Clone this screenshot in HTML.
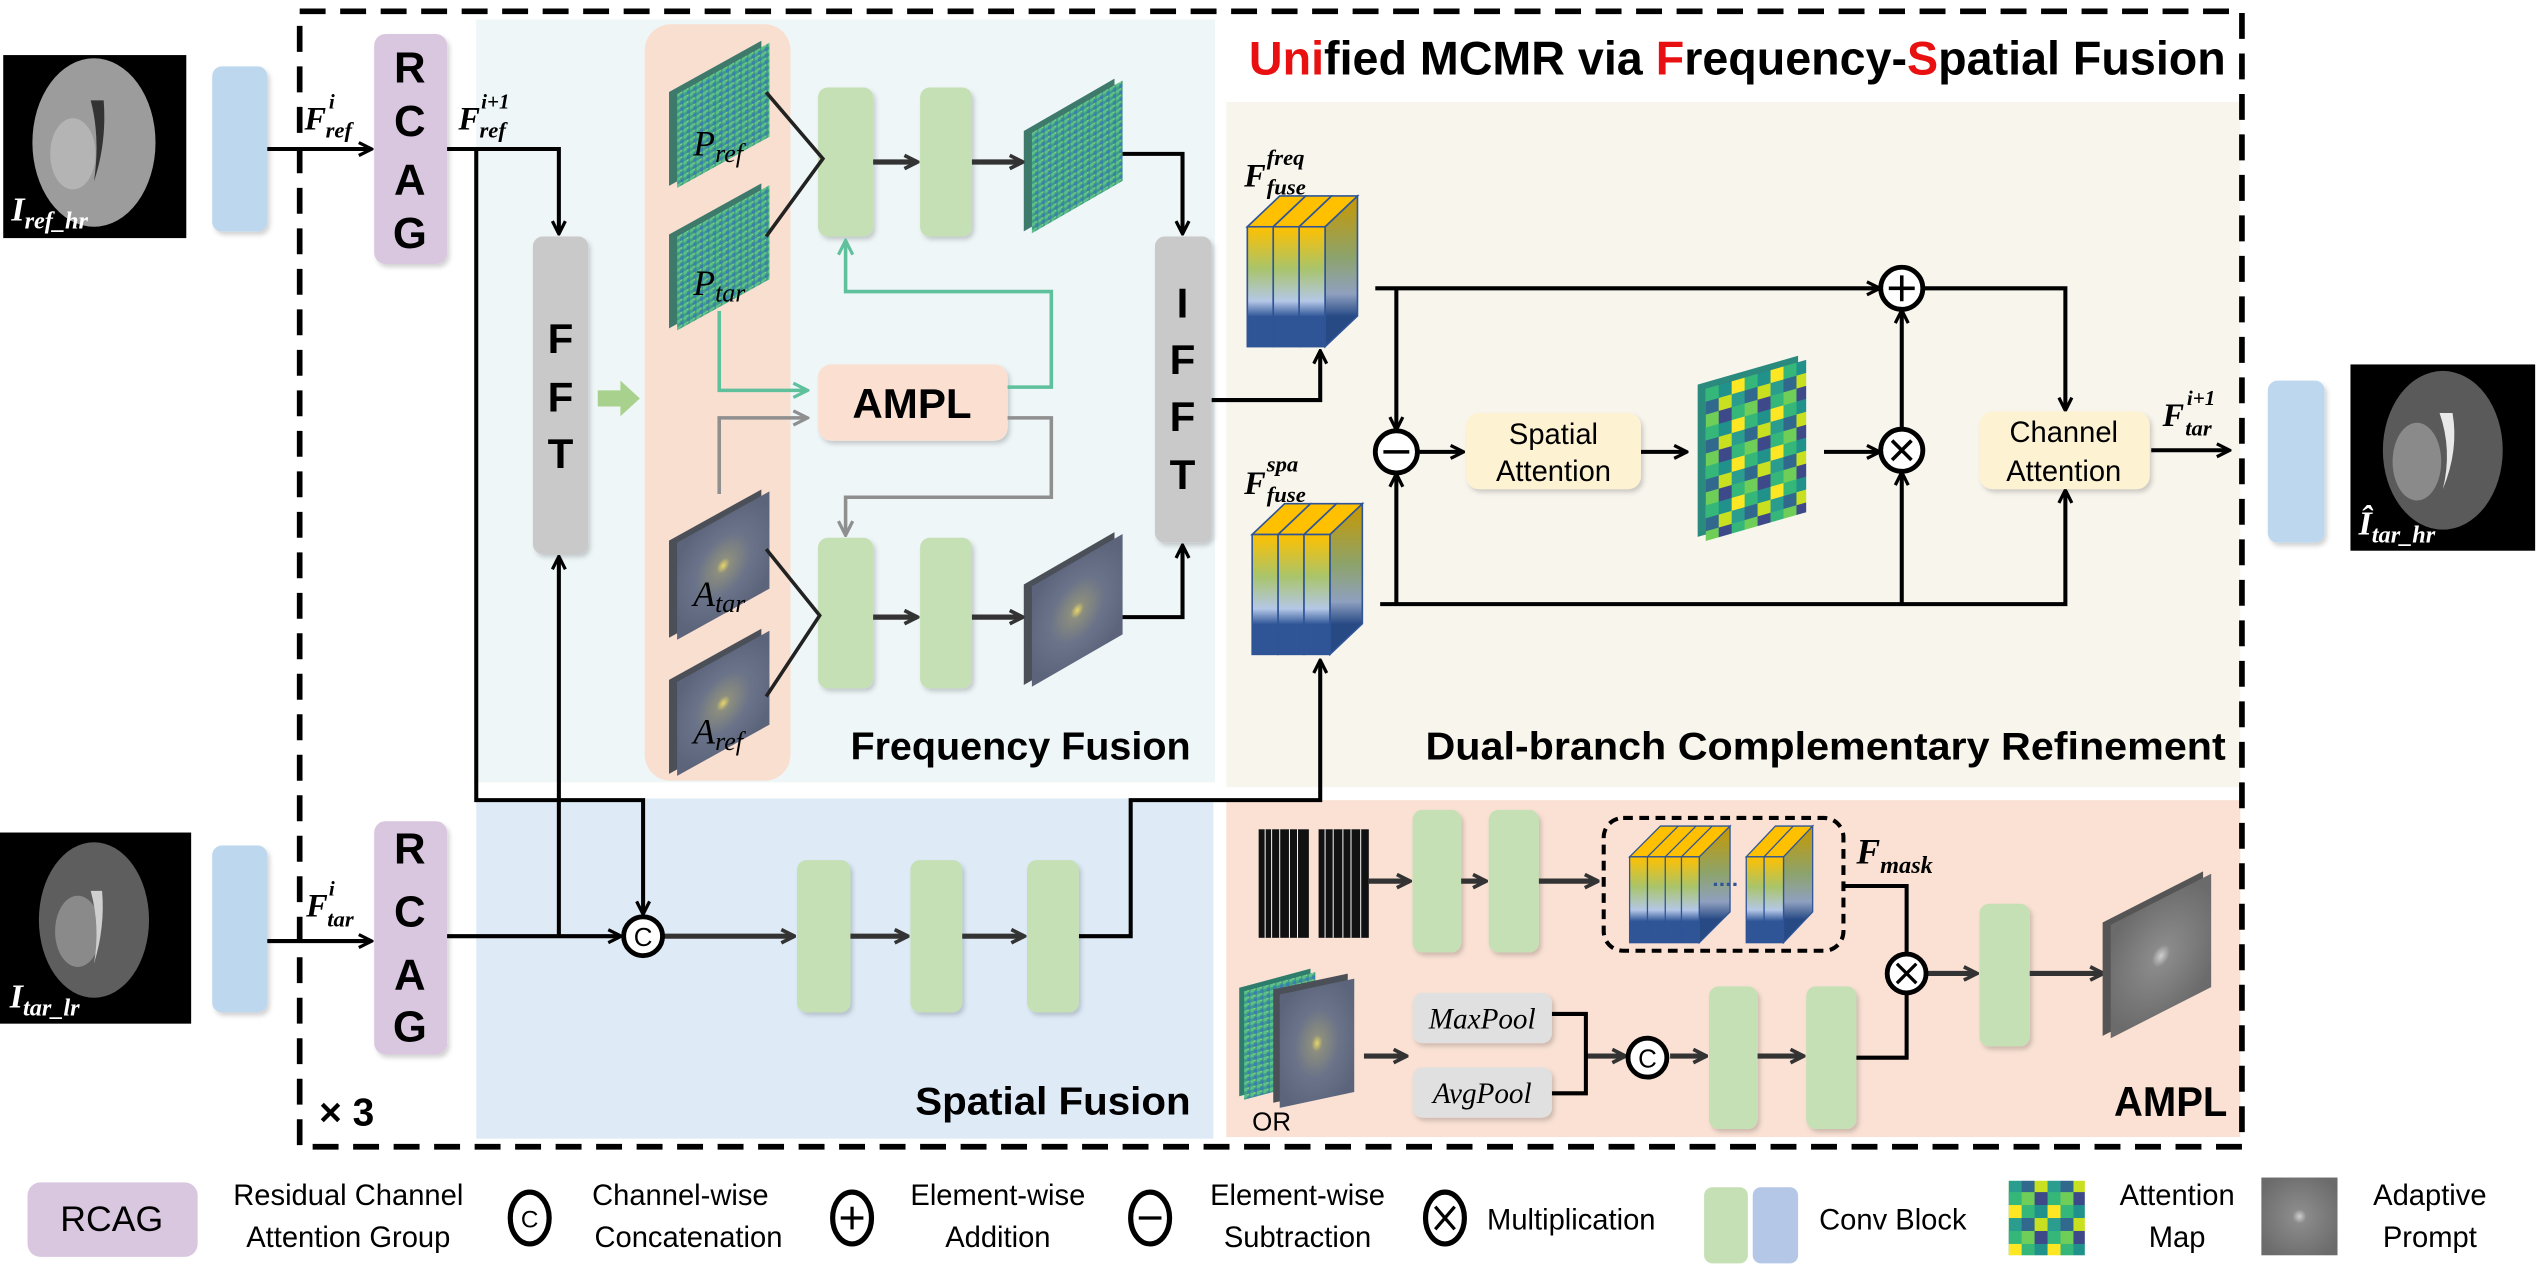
<!DOCTYPE html>
<html><head><meta charset="utf-8"><style>
html,body{margin:0;padding:0;background:#fff;}
svg{display:block;}
.t{font-family:"Liberation Sans Narrow","Liberation Sans",sans-serif;fill:#000;}
.m{font-family:"Liberation Serif",serif;font-style:italic;fill:#000;}
</style></head><body>
<svg width="2540" height="1265" viewBox="0 0 1568 781" preserveAspectRatio="none" xmlns="http://www.w3.org/2000/svg">
<defs>
<marker id="ab" viewBox="0 0 10 10" refX="8.5" refY="5" markerWidth="4" markerHeight="4" orient="auto" markerUnits="strokeWidth"><path d="M1,1 L9,5 L1,9" fill="none" stroke="#000" stroke-width="2"/></marker>
<marker id="ad" viewBox="0 0 10 10" refX="8.5" refY="5" markerWidth="3.2" markerHeight="3.2" orient="auto" markerUnits="strokeWidth"><path d="M1,1 L9,5 L1,9" fill="none" stroke="#333" stroke-width="2.2"/></marker>
<marker id="ag" viewBox="0 0 10 10" refX="8.5" refY="5" markerWidth="5" markerHeight="5" orient="auto" markerUnits="strokeWidth"><path d="M1,1 L9,5 L1,9" fill="none" stroke="#5fc09c" stroke-width="1.8"/></marker>
<marker id="ay" viewBox="0 0 10 10" refX="8.5" refY="5" markerWidth="5" markerHeight="5" orient="auto" markerUnits="strokeWidth"><path d="M1,1 L9,5 L1,9" fill="none" stroke="#8f8f8f" stroke-width="1.8"/></marker>
<filter id="sh" x="-30%" y="-30%" width="160%" height="160%"><feDropShadow dx="1.5" dy="2" stdDeviation="1.5" flood-color="#000" flood-opacity="0.18"/></filter>
<pattern id="pn" width="4" height="4" patternUnits="userSpaceOnUse">
<rect width="4" height="4" fill="#3f9f86"/><rect width="2" height="2" fill="#5cc08a"/><rect x="2" y="2" width="2" height="2" fill="#3a7fae"/><rect x="2" width="1" height="1" fill="#8bd27a"/></pattern>
<radialGradient id="ag1" cx="0.5" cy="0.5" r="0.6"><stop offset="0" stop-color="#e7d56a"/><stop offset="0.12" stop-color="#8c8e7e"/><stop offset="0.5" stop-color="#6a7389"/><stop offset="1" stop-color="#5b647a"/></radialGradient>
<radialGradient id="gp" cx="0.5" cy="0.5" r="0.6"><stop offset="0" stop-color="#cfcfcf"/><stop offset="0.15" stop-color="#8a8a8a"/><stop offset="1" stop-color="#6b6b6b"/></radialGradient>
<pattern id="am" width="24" height="24" patternUnits="userSpaceOnUse">
<rect width="8" height="8" fill="#35b779"/><rect x="8" width="8" height="8" fill="#21918c"/><rect x="16" width="8" height="8" fill="#fde725"/>
<rect y="8" width="8" height="8" fill="#31688e"/><rect x="8" y="8" width="8" height="8" fill="#c8e020"/><rect x="16" y="8" width="8" height="8" fill="#2a9d8f"/>
<rect y="16" width="8" height="8" fill="#6ece58"/><rect x="8" y="16" width="8" height="8" fill="#3e4989"/><rect x="16" y="16" width="8" height="8" fill="#35b779"/></pattern>
<linearGradient id="cb" x1="0" y1="0" x2="0" y2="1"><stop offset="0" stop-color="#ffc000"/><stop offset="0.35" stop-color="#a9c46a"/><stop offset="0.62" stop-color="#b4c7e7"/><stop offset="0.75" stop-color="#2f5597"/><stop offset="1" stop-color="#2f5597"/></linearGradient>
<linearGradient id="cs" x1="0" y1="0" x2="0" y2="1"><stop offset="0" stop-color="#c99800"/><stop offset="0.4" stop-color="#8da36a"/><stop offset="0.65" stop-color="#8fa0c0"/><stop offset="0.8" stop-color="#274a85"/><stop offset="1" stop-color="#274a85"/></linearGradient>
</defs>

<!-- background regions -->
<rect x="294" y="12" width="456" height="471" fill="#eef6f8"/>
<rect x="757" y="63" width="626" height="423" fill="#f8f5ed"/>
<rect x="294" y="493" width="455" height="210" fill="#deebf7"/>
<rect x="757" y="494" width="626" height="208" fill="#fae1d4"/>
<rect x="398" y="15" width="90" height="467" rx="16" fill="#f9dfd0"/>

<!-- outer dashed box -->
<rect x="185" y="7" width="1199" height="701" fill="none" stroke="#000" stroke-width="3.5" stroke-dasharray="16 9"/>

<!-- brains -->
<rect x="2" y="34" width="113" height="113" fill="#000"/>
<ellipse cx="58" cy="88" rx="38" ry="52" fill="#9c9c9c"/>
<ellipse cx="45" cy="95" rx="14" ry="22" fill="#b4b4b4"/>
<path d="M56,62 Q62,85 58,112 Q66,88 64,62Z" fill="#333"/>
<text class="m" x="7" y="136" font-size="21" font-weight="bold" fill="#fff" style="fill:#fff">I<tspan font-size="15" dy="5">ref_hr</tspan></text>

<rect x="0" y="514" width="118" height="118" fill="#000"/>
<ellipse cx="58" cy="568" rx="34" ry="48" fill="#5e5e5e"/>
<ellipse cx="48" cy="575" rx="14" ry="22" fill="#8a8a8a"/>
<path d="M56,550 Q62,572 58,595 Q65,572 63,550Z" fill="#cfcfcf"/>
<text class="m" x="6" y="622" font-size="21" font-weight="bold" style="fill:#fff">I<tspan font-size="15" dy="5">tar_lr</tspan></text>

<rect x="1451" y="225" width="114" height="115" fill="#000"/>
<ellipse cx="1508" cy="278" rx="37" ry="49" fill="#5a5a5a"/>
<ellipse cx="1492" cy="285" rx="15" ry="24" fill="#8a8a8a"/>
<path d="M1506,255 Q1514,278 1508,302 Q1518,278 1514,255Z" fill="#e8e8e8"/>
<text class="m" x="1456" y="330" font-size="21" font-weight="bold" style="fill:#fff">Î<tspan font-size="15" dy="5">tar_hr</tspan></text>

<!-- blue conv blocks -->
<rect x="131" y="41" width="34" height="102" rx="6" fill="#bdd7ee" filter="url(#sh)"/>
<rect x="131" y="522" width="34" height="103" rx="6" fill="#bdd7ee" filter="url(#sh)"/>
<rect x="1400" y="235" width="35" height="100" rx="6" fill="#bdd7ee" filter="url(#sh)"/>

<!-- RCAG -->
<rect x="231" y="21" width="45" height="142" rx="7" fill="#d9c6df" filter="url(#sh)"/>
<g class="t" font-size="27" text-anchor="middle" font-weight="bold"><text x="253" y="51">R</text><text x="253" y="84">C</text><text x="253" y="120">A</text><text x="253" y="153">G</text></g>
<rect x="231" y="507" width="45" height="144" rx="7" fill="#d9c6df" filter="url(#sh)"/>
<g class="t" font-size="27" text-anchor="middle" font-weight="bold"><text x="253" y="533">R</text><text x="253" y="572">C</text><text x="253" y="611">A</text><text x="253" y="643">G</text></g>

<!-- labels F -->
<text class="m" x="188" y="80" font-size="20" font-weight="bold">F</text><text class="m" x="203" y="67" font-size="13" font-weight="bold">i</text><text class="m" x="201" y="85" font-size="14" font-weight="bold">ref</text>
<text class="m" x="283" y="80" font-size="20" font-weight="bold">F</text><text class="m" x="297" y="67" font-size="13" font-weight="bold">i+1</text><text class="m" x="296" y="85" font-size="14" font-weight="bold">ref</text>
<text class="m" x="189" y="566" font-size="20" font-weight="bold">F</text><text class="m" x="203" y="553" font-size="13" font-weight="bold">i</text><text class="m" x="202" y="572" font-size="14" font-weight="bold">tar</text>

<!-- FFT & IFFT -->
<rect x="329" y="146" width="34" height="196" rx="6" fill="#c9c9c9" filter="url(#sh)"/>
<g class="t" font-size="26" text-anchor="middle" font-weight="bold"><text x="346" y="218">F</text><text x="346" y="254">F</text><text x="346" y="289">T</text></g>
<rect x="713" y="146" width="35" height="189" rx="6" fill="#c9c9c9" filter="url(#sh)"/>
<g class="t" font-size="26" text-anchor="middle" font-weight="bold"><text x="730" y="196">I</text><text x="730" y="231">F</text><text x="730" y="266">F</text><text x="730" y="302">T</text></g>
<path d="M369,241 h14 v-6 l12,11 l-12,11 v-6 h-14z" fill="#a9d18e"/>

<!-- tiles -->
<g transform="translate(418,58) skewY(-29)"><rect x="-5" y="-4" width="57" height="58" fill="#3d7a6c"/><rect width="57" height="58" fill="url(#pn)"/></g>
<g transform="translate(418,146) skewY(-29)"><rect x="-5" y="-4" width="57" height="58" fill="#3d7a6c"/><rect width="57" height="58" fill="url(#pn)"/></g>
<g transform="translate(418,335) skewY(-29)"><rect x="-5" y="-4" width="57" height="60" fill="#4a4f58"/><rect width="57" height="60" fill="url(#ag1)"/></g>
<g transform="translate(418,421) skewY(-29)"><rect x="-5" y="-4" width="57" height="58" fill="#4a4f58"/><rect width="57" height="58" fill="url(#ag1)"/></g>
<g transform="translate(637,82) skewY(-30)"><rect x="-5" y="-4" width="56" height="62" fill="#3d7a6c"/><rect width="56" height="62" fill="url(#pn)"/></g>
<g transform="translate(637,362) skewY(-30)"><rect x="-5" y="-4" width="56" height="62" fill="#4a4f58"/><rect width="56" height="62" fill="url(#ag1)"/></g>
<g class="m" font-size="22"><text x="428" y="96">P<tspan font-size="16" dy="4">ref</tspan></text><text x="428" y="182">P<tspan font-size="16" dy="4">tar</tspan></text>
<text x="428" y="374">A<tspan font-size="16" dy="4">tar</tspan></text><text x="428" y="459">A<tspan font-size="16" dy="4">ref</tspan></text></g>

<!-- freq convs -->
<g fill="#c5e0b4" filter="url(#sh)">
<rect x="505" y="54" width="34" height="92" rx="6"/><rect x="568" y="54" width="32" height="92" rx="6"/>
<rect x="505" y="332" width="34" height="93" rx="6"/><rect x="568" y="332" width="32" height="93" rx="6"/>
</g>
<rect x="505" y="225" width="117" height="47" rx="8" fill="#fbe0d1" filter="url(#sh)"/>
<text class="t" x="563" y="258" font-size="26" text-anchor="middle" font-weight="bold">AMPL</text>

<g fill="none" stroke="#222" stroke-width="2.2">
<path d="M473,57 L508,98 L473,146"/><path d="M473,339 L506,380 L473,430"/>
</g>
<g fill="none" stroke="#333" stroke-width="3.2" marker-end="url(#ad)">
<path d="M539,100 H566"/><path d="M600,100 H631"/><path d="M539,381 H566"/><path d="M600,381 H631"/>
</g>
<g fill="none" stroke="#000" stroke-width="2.5" marker-end="url(#ab)">
<path d="M693,95 H730 V144"/><path d="M693,381 H730 V337"/>
<path d="M165,92 H229"/><path d="M165,581 H229"/>
<path d="M276,92 H345 V144"/>
<path d="M345,578 V344"/>
<path d="M294,92 V494 H397 V564"/>
<path d="M276,578 H383"/>
</g>
<g fill="none" stroke="#5fc09c" stroke-width="2.2" marker-end="url(#ag)"><path d="M444,192 V241 H498"/><path d="M622,239 H649 V180 H522 V149"/></g>
<g fill="none" stroke="#8f8f8f" stroke-width="2.2" marker-end="url(#ay)"><path d="M444,305 V258 H498"/><path d="M622,258 H649 V307 H522 V330"/></g>
<text class="t" x="525" y="469" font-size="24" textLength="210" lengthAdjust="spacingAndGlyphs" font-weight="bold">Frequency Fusion</text>

<!-- title -->
<text class="t" x="771" y="46" font-size="29" font-weight="bold" textLength="603" lengthAdjust="spacingAndGlyphs"><tspan fill="#e81010" style="fill:#e81010">Uni</tspan>fied  MCMR via <tspan style="fill:#e81010">F</tspan>requency-<tspan style="fill:#e81010">S</tspan>patial Fusion</text>

<!-- cubes -->
<g id="cube1">
<polygon points="818,140 838,121 838,195 818,214" fill="url(#cs)" stroke="#2f5597" stroke-width="1"/>
<polygon points="770,140 790,121 806,121 786,140" fill="#ffc000" stroke="#2f5597" stroke-width="1"/>
<polygon points="786,140 806,121 822,121 802,140" fill="#ffc000" stroke="#2f5597" stroke-width="1"/>
<polygon points="802,140 822,121 838,121 818,140" fill="#ffc000" stroke="#2f5597" stroke-width="1"/>
<rect x="770" y="140" width="16" height="74" fill="url(#cb)" stroke="#2f5597" stroke-width="1"/>
<rect x="786" y="140" width="16" height="74" fill="url(#cb)" stroke="#2f5597" stroke-width="1"/>
<rect x="802" y="140" width="16" height="74" fill="url(#cb)" stroke="#2f5597" stroke-width="1"/>
</g>
<use href="#cube1" transform="translate(3,190)"/>
<text class="m" x="768" y="115" font-size="20" font-weight="bold">F</text><text class="m" x="782" y="102" font-size="14" font-weight="bold">freq</text><text class="m" x="782" y="120" font-size="14" font-weight="bold">fuse</text>
<text class="m" x="768" y="305" font-size="20" font-weight="bold">F</text><text class="m" x="782" y="291" font-size="14" font-weight="bold">spa</text><text class="m" x="782" y="310" font-size="14" font-weight="bold">fuse</text>

<!-- dual branch -->
<g fill="none" stroke="#000" stroke-width="2.5" marker-end="url(#ab)">
<path d="M748,247 H815 V217"/>
<path d="M666,578 H698 V494 H815 V408"/>
<path d="M849,178 H1160"/>
<path d="M862,178 V265"/>
<path d="M852,373 H1275 V303"/>
<path d="M862,373 V293"/>
<path d="M876,279 H903"/>
<path d="M1013,279 H1041"/>
<path d="M1126,279 H1160"/>
<path d="M1174,373 V292"/>
<path d="M1174,265 V192"/>
<path d="M1187,178 H1275 V253"/>
<path d="M1328,278 H1376"/>
</g>
<g fill="#fff" stroke="#000" stroke-width="3">
<circle cx="1174" cy="178" r="13"/><circle cx="862" cy="279" r="13"/><circle cx="1174" cy="278" r="13"/>
</g>
<g stroke="#000" stroke-width="2.2"><path d="M1174,170 V186 M1166,178 H1182"/><path d="M854,279 H870"/><path d="M1168,272 L1180,284 M1180,272 L1168,284"/></g>
<rect x="905" y="255" width="108" height="47" rx="8" fill="#fdf2d2" filter="url(#sh)"/>
<text class="t" x="959" y="274" font-size="18" text-anchor="middle">Spatial</text><text class="t" x="959" y="297" font-size="18" text-anchor="middle">Attention</text>
<rect x="1222" y="254" width="105" height="48" rx="8" fill="#fdf2d2" filter="url(#sh)"/>
<text class="t" x="1274" y="273" font-size="18" text-anchor="middle">Channel</text><text class="t" x="1274" y="297" font-size="18" text-anchor="middle">Attention</text>
<g transform="translate(1053,240) skewY(-16)"><rect x="-5" y="-4" width="62" height="94" fill="#2a8a7e"/><rect width="62" height="94" fill="url(#am)"/></g>
<text class="m" x="1335" y="263" font-size="20" font-weight="bold">F</text><text class="m" x="1350" y="250" font-size="13" font-weight="bold">i+1</text><text class="m" x="1349" y="269" font-size="14" font-weight="bold">tar</text>
<text class="t" x="880" y="469" font-size="24" font-weight="bold" textLength="494" lengthAdjust="spacingAndGlyphs">Dual-branch Complementary Refinement</text>

<!-- spatial fusion -->
<g fill="#c5e0b4" filter="url(#sh)"><rect x="492" y="531" width="33" height="94" rx="6"/><rect x="562" y="531" width="32" height="94" rx="6"/><rect x="634" y="531" width="32" height="94" rx="6"/></g>
<g fill="none" stroke="#333" stroke-width="3.2" marker-end="url(#ad)"><path d="M410,578 H490"/><path d="M525,578 H560"/><path d="M594,578 H632"/></g>
<circle cx="397" cy="578" r="12" fill="#fff" stroke="#000" stroke-width="3"/><text class="t" x="397" y="584" font-size="16" text-anchor="middle">C</text>
<text class="t" x="565" y="688" font-size="24" font-weight="bold" textLength="170" lengthAdjust="spacingAndGlyphs">Spatial Fusion</text>
<text class="t" x="197" y="695" font-size="24" font-weight="bold">× 3</text>

<!-- AMPL module -->
<g fill="#111"><rect x="777" y="512" width="31" height="67"/><rect x="814" y="512" width="31" height="67"/></g>
<g stroke="#fff" stroke-width="0.6"><path d="M781,512 V579 M785,512 V579 M790,512 V579 M796,512 V579 M801,512 V579 M818,512 V579 M823,512 V579 M829,512 V579 M834,512 V579 M840,512 V579"/></g>
<g fill="#c5e0b4" filter="url(#sh)">
<rect x="872" y="500" width="30" height="88" rx="6"/><rect x="919" y="500" width="31" height="88" rx="6"/>
<rect x="1222" y="558" width="31" height="88" rx="6"/>
<rect x="1055" y="609" width="30" height="88" rx="6"/><rect x="1115" y="609" width="31" height="88" rx="6"/>
</g>
<g fill="none" stroke="#333" stroke-width="3.2" marker-end="url(#ad)">
<path d="M845,544 H870"/><path d="M902,544 H917"/><path d="M950,544 H986"/>
<path d="M1189,601 H1220"/><path d="M1253,601 H1298"/>
<path d="M842,652 H868"/><path d="M979,652 H1003"/><path d="M1031,652 H1053"/><path d="M1085,652 H1113"/>
</g>
<g fill="none" stroke="#000" stroke-width="2.5">
<path d="M1138,547 H1177 V588"/><path d="M1146,653 H1177 V614"/>
<path d="M958,626 H979 V675 H958"/>
</g>
<circle cx="1177" cy="601" r="12" fill="#fff" stroke="#000" stroke-width="3"/><path d="M1171,595 L1183,607 M1183,595 L1171,607" stroke="#000" stroke-width="2"/>
<circle cx="1017" cy="653" r="12" fill="#fff" stroke="#000" stroke-width="3"/><text class="t" x="1017" y="659" font-size="16" text-anchor="middle">C</text>
<rect x="990" y="505" width="148" height="82" rx="12" fill="none" stroke="#000" stroke-width="2.5" stroke-dasharray="6 4"/>
<g id="mc">
<polygon points="1049,529 1068,510 1068,563 1049,582" fill="url(#cs)" stroke="#2f5597" stroke-width="0.8"/>
<polygon points="1006,529 1025,510 1068,510 1049,529" fill="#ffc000" stroke="#2f5597" stroke-width="0.8"/>
<path d="M1017,529 L1036,510 M1028,529 L1047,510 M1038,529 L1057,510" stroke="#2f5597" stroke-width="0.8"/>
<rect x="1006" y="529" width="43" height="53" fill="url(#cb)" stroke="#2f5597" stroke-width="0.8"/>
<path d="M1017,529 V582 M1028,529 V582 M1038,529 V582" stroke="#2f5597" stroke-width="0.8"/>
</g>
<polygon points="1101,529 1119,510 1119,563 1101,582" fill="url(#cs)" stroke="#2f5597" stroke-width="0.8"/>
<polygon points="1078,529 1096,510 1119,510 1101,529" fill="#ffc000" stroke="#2f5597" stroke-width="0.8"/>
<rect x="1078" y="529" width="23" height="53" fill="url(#cb)" stroke="#2f5597" stroke-width="0.8"/>
<path d="M1089,529 V582 M1089,529 L1107,510" stroke="#2f5597" stroke-width="0.8"/>
<path d="M1058,546 H1072" stroke="#2f5597" stroke-width="2" stroke-dasharray="2 2"/>
<text class="m" x="1146" y="533" font-size="22" font-weight="bold">F<tspan font-size="15" dy="6">mask</tspan></text>
<g transform="translate(1303,571) skewY(-27)"><rect x="-5" y="-4" width="62" height="70" fill="#555"/><rect width="62" height="70" fill="url(#gp)"/></g>
<g transform="translate(768,612) skewY(-15)"><rect x="-3" y="-3" width="44" height="67" fill="#2e7d6c"/><rect width="44" height="67" fill="url(#pn)"/></g>
<g transform="translate(790,614) skewY(-12)"><rect x="-4" y="-4" width="46" height="70" fill="#4a4f58"/><rect width="46" height="70" fill="url(#ag1)"/></g>
<text class="t" x="773" y="698" font-size="16">OR</text>
<rect x="872" y="613" width="86" height="31" rx="6" fill="#e0e0e0" filter="url(#sh)"/>
<rect x="872" y="659" width="86" height="31" rx="6" fill="#e0e0e0" filter="url(#sh)"/>
<text class="m" x="915" y="635" font-size="18" text-anchor="middle">MaxPool</text>
<text class="m" x="915" y="681" font-size="18" text-anchor="middle">AvgPool</text>
<text class="t" x="1305" y="689" font-size="26" font-weight="bold" textLength="70" lengthAdjust="spacingAndGlyphs">AMPL</text>

<!-- legend -->
<rect x="17" y="730" width="105" height="46" rx="8" fill="#d9c6df"/>
<text class="t" x="69" y="760" font-size="22" text-anchor="middle">RCAG</text>
<g class="t" font-size="18" text-anchor="middle">
<text x="215" y="744">Residual Channel</text><text x="215" y="770">Attention Group</text>
<text x="420" y="744">Channel-wise</text><text x="425" y="770">Concatenation</text>
<text x="616" y="744">Element-wise</text><text x="616" y="770">Addition</text>
<text x="801" y="744">Element-wise</text><text x="801" y="770">Subtraction</text>
<text x="1344" y="744">Attention</text><text x="1344" y="770">Map</text>
<text x="1500" y="744">Adaptive</text><text x="1500" y="770">Prompt</text>
</g>
<g class="t" font-size="18"><text x="918" y="759">Multiplication</text><text x="1123" y="759">Conv Block</text></g>
<g fill="#fff" stroke="#000" stroke-width="3.2">
<ellipse cx="327" cy="752" rx="12" ry="16"/><ellipse cx="526" cy="752" rx="12" ry="16"/><ellipse cx="710" cy="752" rx="12" ry="16"/><ellipse cx="892" cy="752" rx="12" ry="16"/>
</g>
<text class="t" x="327" y="758" font-size="15" text-anchor="middle">C</text>
<g stroke="#000" stroke-width="2"><path d="M526,745 V759 M519,752 H533"/><path d="M703,752 H717"/><path d="M886,745 L898,759 M898,745 L886,759"/></g>
<rect x="1052" y="733" width="27" height="47" rx="5" fill="#c5e0b4"/>
<rect x="1082" y="733" width="28" height="47" rx="5" fill="#b4c7e7"/>
<rect x="1240" y="729" width="47" height="46" fill="url(#am)"/>
<rect x="1396" y="727" width="47" height="48" fill="url(#gp)"/>
</svg>
</body></html>
